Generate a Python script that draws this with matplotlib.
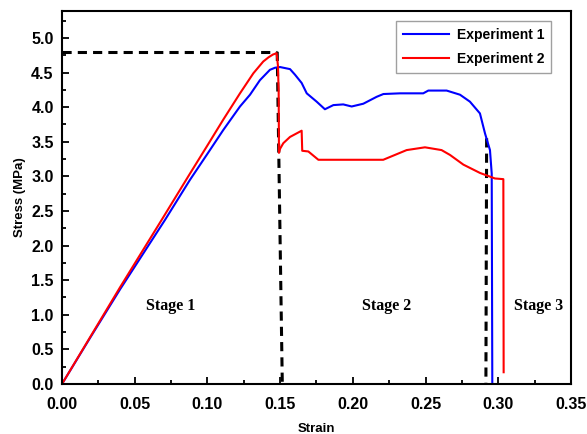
import matplotlib
matplotlib.use("Agg")
import matplotlib.pyplot as plt
from matplotlib.ticker import MultipleLocator

# Experiment 1 (blue)
exp1_strain = [0.0, 0.02, 0.04, 0.0708, 0.0880, 0.0995, 0.1109, 0.1224, 0.1293, 0.1361, 0.1430, 0.1465, 0.1499,
               0.1568, 0.1602, 0.1648, 0.1683, 0.1751, 0.1808, 0.1866, 0.1934, 0.1992, 0.2072, 0.2164,
               0.2210, 0.2324, 0.2484, 0.2519, 0.2645, 0.2737, 0.2805, 0.2874, 0.2909, 0.2943, 0.2955, 0.2959]
exp1_stress = [0.0, 0.69, 1.37, 2.37, 2.95, 3.31, 3.67, 4.01, 4.18, 4.39, 4.54, 4.57, 4.58,
               4.55, 4.47, 4.35, 4.20, 4.08, 3.97, 4.03, 4.04, 4.01, 4.05, 4.15,
               4.19, 4.20, 4.20, 4.24, 4.24, 4.18, 4.08, 3.91, 3.62, 3.38, 3.04, 0.03]

# Experiment 2 (red)
exp2_strain = [0.0, 0.02, 0.04, 0.0685, 0.0880, 0.0995, 0.1109, 0.1224, 0.1316, 0.1384, 0.1420, 0.1450, 0.1476,
               0.1485, 0.1490, 0.1492, 0.1500, 0.1522, 0.1568, 0.1648, 0.1652, 0.1694, 0.1763,
               0.2209, 0.2370, 0.2496, 0.2610, 0.2668, 0.2760, 0.2874, 0.2977, 0.3035, 0.3037]
exp2_stress = [0.0, 0.70, 1.40, 2.37, 3.04, 3.43, 3.82, 4.20, 4.49, 4.66, 4.72, 4.76, 4.78,
               4.60, 4.22, 3.34, 3.40, 3.48, 3.57, 3.66, 3.37, 3.36, 3.24,
               3.24, 3.38, 3.42, 3.38, 3.31, 3.17, 3.05, 2.97, 2.96, 0.17]

# Dashed guide lines
peak_h_x = [0.0, 0.148]
peak_h_y = [4.8, 4.8]
stage_split1_x = [0.148, 0.1515]
stage_split1_y = [4.8, 0.0]
stage_split2_x = [0.292, 0.2915]
stage_split2_y = [3.55, 0.0]

stage_labels = ["Stage 1", "Stage 2", "Stage 3"]
stage_label_x = [0.075, 0.2232, 0.3278]
stage_label_y = [1.13, 1.13, 1.13]

fig = plt.figure(figsize=(5.87, 4.34), dpi=100)
ax = fig.add_axes([0.1056, 0.1152, 0.8671, 0.8595])

dash = dict(color="black", lw=2.2, linestyle=(0, (3.0, 2.0)))
ax.plot(peak_h_x, peak_h_y, **dash)
ax.plot(stage_split1_x, stage_split1_y, **dash)
ax.plot(stage_split2_x, stage_split2_y, **dash)

ax.plot(exp1_strain, exp1_stress, color="#0000ff", lw=1.5, label="Experiment 1")
ax.plot(exp2_strain, exp2_stress, color="#ff0000", lw=1.5, label="Experiment 2")

for t, x, y in zip(stage_labels, stage_label_x, stage_label_y):
    ax.text(x, y, t, ha="center", va="center", fontsize=11.5, fontweight="bold",
            family="Liberation Serif")

ax.set_xlim(0, 0.35)
ax.set_ylim(0, 5.39)
ax.xaxis.set_major_locator(MultipleLocator(0.05))
ax.xaxis.set_minor_locator(MultipleLocator(0.025))
ax.yaxis.set_major_locator(MultipleLocator(0.5))
ax.yaxis.set_minor_locator(MultipleLocator(0.25))
ax.xaxis.set_major_formatter(plt.FuncFormatter(lambda v, p: f"{v:.2f}"))
ax.yaxis.set_major_formatter(plt.FuncFormatter(lambda v, p: f"{v:.1f}"))

ax.tick_params(which="both", direction="in", width=1.3, top=False, right=False)
ax.tick_params(which="major", length=5, labelsize=11.5)
ax.tick_params(which="minor", length=3)
ax.tick_params(axis="x", which="major", pad=9)
ax.tick_params(axis="y", which="major", pad=6)
for lab in ax.get_xticklabels() + ax.get_yticklabels():
    lab.set_fontweight("bold")
    lab.set_family("Liberation Sans")
for s in ax.spines.values():
    s.set_linewidth(1.5)

ax.set_xlabel("Strain", fontsize=9.5, fontweight="bold", family="Liberation Sans", labelpad=8)
ax.set_ylabel("Stress (MPa)", fontsize=9.5, fontweight="bold", family="Liberation Sans", labelpad=3.5)

leg = ax.legend(loc="upper right", bbox_to_anchor=(0.975, 0.992), fancybox=False,
                prop=dict(family="Liberation Sans", weight="bold", size=10),
                handlelength=3.3, handletextpad=0.6, borderpad=0.5, labelspacing=0.7)
leg.get_frame().set_edgecolor("#888888")
leg.get_frame().set_linewidth(1.0)

fig.savefig("out.png", dpi=100)
